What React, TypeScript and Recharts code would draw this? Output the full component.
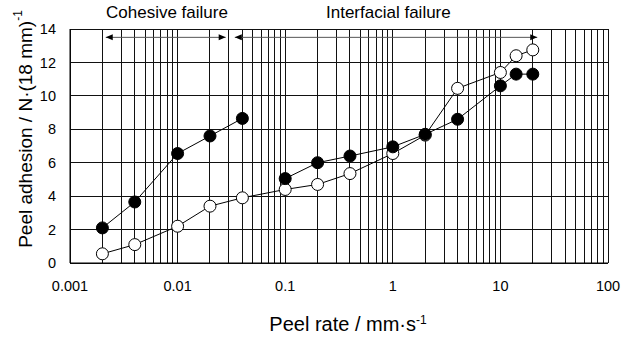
import { LineChart, Line, XAxis, YAxis, CartesianGrid } from 'recharts';

// peel rate (mm/s) and adhesion (N per 18 mm)
const rates = [0.002, 0.004, 0.01, 0.02, 0.04, 0.1, 0.2, 0.4, 1, 2, 4, 10, 14, 20];
const filledAdhesion = [2.1, 3.65, 6.55, 7.6, 8.65, 5.05, 6.0, 6.4, 6.95, 7.7, 8.6, 10.6, 11.3, 11.3];
const openAdhesion = [0.55, 1.1, 2.2, 3.4, 3.9, 4.4, 4.7, 5.35, 6.55, 7.65, 10.45, 11.4, 12.4, 12.75];

const decades = [0.001, 0.01, 0.1, 1, 10, 100];
const decadeLabels = ['0.001', '0.01', '0.1', '1', '10', '100'];
const yTicks = [0, 2, 4, 6, 8, 10, 12, 14];

const cohesiveArrow = [0.00215, 0.028];
const interfacialArrow = [0.034, 22];
const arrowLevel = 13.5;

const xTicks: number[] = [];
decades.slice(0, -1).forEach((d) => {
  for (let m = 1; m < 10; m++) xTicks.push(Number((d * m).toPrecision(3)));
});
xTicks.push(100);

const toPoints = (xs: number[], ys: number[]) => xs.map((x, i) => ({ x, y: ys[i] }));

const filledCohesive = toPoints(rates.slice(0, 5), filledAdhesion.slice(0, 5));
const filledInterfacial = toPoints(rates.slice(5), filledAdhesion.slice(5));
const openAll = toPoints(rates, openAdhesion);
const arrow1 = cohesiveArrow.map((x) => ({ x, y: arrowLevel }));
const arrow2 = interfacialArrow.map((x) => ({ x, y: arrowLevel }));

const font = '"Liberation Sans", Arial, sans-serif';

const ArrowHead = (props: any) => {
  const { cx, cy, index } = props;
  if (cx == null || cy == null) return null;
  const d = index === 0 ? 7 : -7;
  return (
    <polygon
      key={index}
      points={`${cx},${cy} ${cx + d},${cy - 3} ${cx + d},${cy + 3}`}
      fill="#000"
    />
  );
};

const YLabel = () => (
  <text
    x={25}
    y={129}
    transform="rotate(-90, 25, 129)"
    textAnchor="middle"
    dominantBaseline="central"
    fontSize={19}
    fontFamily={font}
    fill="#000"
  >
    Peel adhesion / N·(18 mm)
    <tspan dy={-7} fontSize={12}>-1</tspan>
  </text>
);

const XLabel = () => (
  <text
    x={348}
    y={331}
    textAnchor="middle"
    fontSize={20}
    fontFamily={font}
    fill="#000"
  >
    Peel rate / mm·s
    <tspan dy={-7} fontSize={12}>-1</tspan>
  </text>
);

export default function App() {
  return (
    <div style={{ position: 'absolute', left: 0, top: 0, width: 631, height: 341, background: '#fff', fontFamily: font }}>
      <style>{'.recharts-cartesian-grid line { shape-rendering: crispEdges; }'}</style>
      <div style={{ position: 'absolute', left: 106, top: 3, fontSize: 17, color: '#000' }}>Cohesive failure</div>
      <div style={{ position: 'absolute', left: 326, top: 3, fontSize: 17, color: '#000' }}>Interfacial failure</div>
      <LineChart width={631} height={341} margin={{ top: 29, right: 23, left: 0, bottom: 0 }}>
        <CartesianGrid stroke="#111" strokeWidth={1} />
        <XAxis
          dataKey="x"
          type="number"
          scale="log"
          domain={[0.001, 100]}
          ticks={xTicks}
          allowDataOverflow
          tickFormatter={(v: number) => {
            const i = decades.indexOf(v);
            return i >= 0 ? decadeLabels[i] : '';
          }}
          interval={0}
          height={78}
          tickLine={false}
          tickMargin={12}
          axisLine={{ stroke: '#000' }}
          tick={{ fill: '#000', fontSize: 14.5, fontFamily: font }}
          label={<XLabel />}
        />
        <YAxis
          type="number"
          domain={[0, 14]}
          ticks={yTicks}
          width={70}
          tickLine={false}
          tickMargin={8}
          axisLine={{ stroke: '#000' }}
          tick={{ fill: '#000', fontSize: 14.5, fontFamily: font }}
          label={<YLabel />}
        />
        <Line data={arrow1} dataKey="y" stroke="#555" strokeWidth={1} dot={<ArrowHead />} activeDot={false} isAnimationActive={false} />
        <Line data={arrow2} dataKey="y" stroke="#555" strokeWidth={1} dot={<ArrowHead />} activeDot={false} isAnimationActive={false} />
        <Line
          data={openAll}
          dataKey="y"
          stroke="#000"
          strokeWidth={1}
          dot={{ r: 6, fill: '#fff', stroke: '#000', strokeWidth: 1 }}
          activeDot={false}
          isAnimationActive={false}
        />
        <Line
          data={filledCohesive}
          dataKey="y"
          stroke="#000"
          strokeWidth={1}
          dot={{ r: 6, fill: '#000', stroke: '#000', strokeWidth: 1 }}
          activeDot={false}
          isAnimationActive={false}
        />
        <Line
          data={filledInterfacial}
          dataKey="y"
          stroke="#000"
          strokeWidth={1}
          dot={{ r: 6, fill: '#000', stroke: '#000', strokeWidth: 1 }}
          activeDot={false}
          isAnimationActive={false}
        />
      </LineChart>
    </div>
  );
}
